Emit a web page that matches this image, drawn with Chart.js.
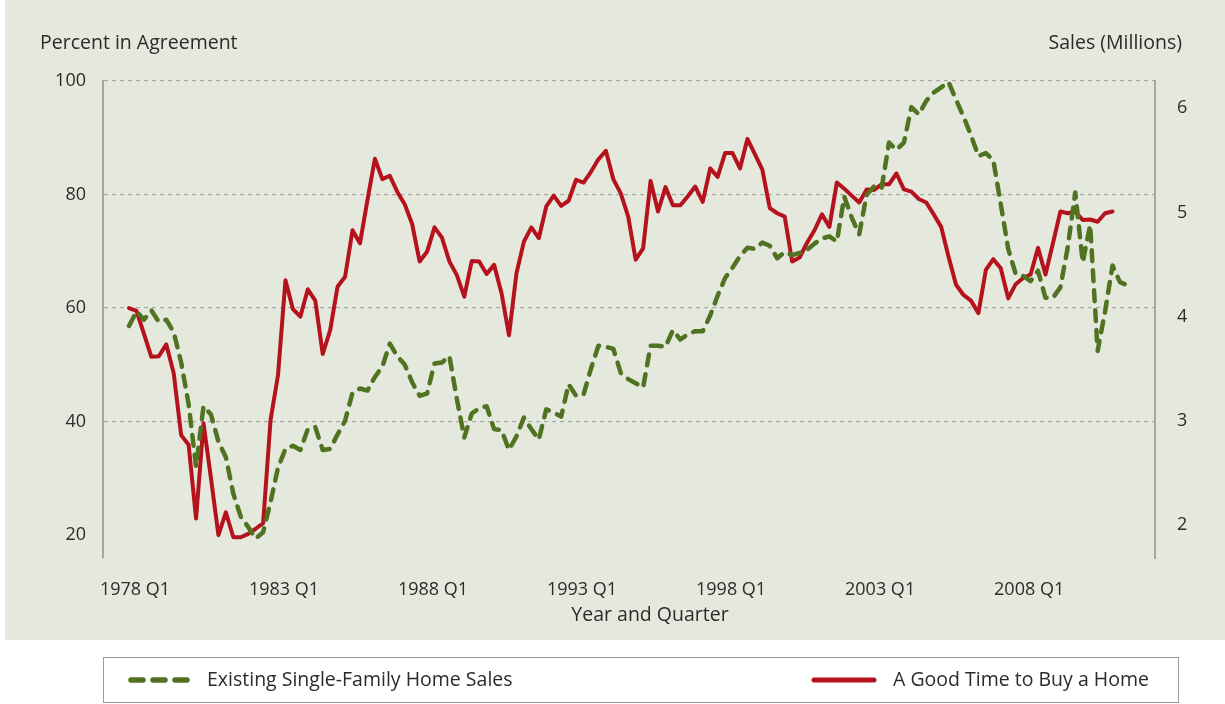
<!DOCTYPE html>
<html>
<head>
<meta charset="utf-8">
<script src="https://cdn.jsdelivr.net/npm/chart.js@4.4.1/dist/chart.umd.min.js"></script>
<style>
    html, body { margin: 0; padding: 0; background: #ffffff; }
    #wrap { width: 1225px; height: 704px; }
</style>
</head>
<body>
<div id="wrap"><canvas id="homeChart" width="1225" height="704"></canvas></div>
<script>
// 季度标签 1978 Q1 起
const startYear = 1978;
const quarters = [];
for (let y = startYear; y <= 2012; y++) {
    for (let q = 1; q <= 4; q++) quarters.push(y + ' Q' + q);
}

// 横轴刻度（季度序号）
const xTickIndex = [0, 20, 40, 60, 80, 100, 120];
const leftTicks = [20, 40, 60, 80, 100];
const rightTicks = [2, 3, 4, 5, 6];

// Existing Single-Family Home Sales (百万)
const homeSales = [
    3.91, 4.05, 3.97, 4.06, 3.95, 3.97, 3.85, 3.56, 3.16, 2.56,
    3.14, 3.06, 2.80, 2.65, 2.30, 2.08, 1.98, 1.87, 1.93, 2.22,
    2.55, 2.73, 2.76, 2.72, 2.92, 2.94, 2.72, 2.73, 2.87, 3.00,
    3.27, 3.31, 3.29, 3.42, 3.52, 3.74, 3.62, 3.54, 3.37, 3.24,
    3.26, 3.55, 3.56, 3.62, 3.21, 2.84, 3.07, 3.12, 3.14, 2.92,
    2.91, 2.72, 2.85, 3.03, 2.92, 2.82, 3.11, 3.08, 3.04, 3.35,
    3.24, 3.25, 3.50, 3.72, 3.71, 3.69, 3.46, 3.40, 3.36, 3.32,
    3.72, 3.72, 3.71, 3.87, 3.78, 3.83, 3.86, 3.86, 4.01, 4.20,
    4.37, 4.47, 4.58, 4.66, 4.65, 4.71, 4.68, 4.56, 4.62, 4.59,
    4.61, 4.64, 4.70, 4.75, 4.77, 4.72, 5.15, 4.95, 4.79, 5.17,
    5.25, 5.23, 5.67, 5.60, 5.67, 6.01, 5.94, 6.07, 6.15, 6.20,
    6.25, 6.08, 5.92, 5.74, 5.54, 5.57, 5.50, 5.08, 4.65, 4.41,
    4.39, 4.34, 4.44, 4.18, 4.18, 4.28, 4.67, 5.19, 4.52, 4.88,
    3.67, 4.05, 4.49, 4.33, 4.30
];

// A Good Time to Buy a Home (%)
const goodTime = [
    60.0, 59.5, 55.5, 51.4, 51.5, 53.6, 48.5, 37.6, 35.9, 22.9,
    39.7, 30.0, 20.0, 24.0, 19.6, 19.6, 20.2, 21.1, 22.1, 40.3,
    48.2, 64.9, 59.8, 58.5, 63.3, 61.3, 51.9, 56.1, 63.8, 65.5,
    73.7, 71.4, 79.0, 86.3, 82.7, 83.3, 80.5, 78.3, 74.8, 68.2,
    69.9, 74.2, 72.4, 68.2, 65.8, 62.0, 68.3, 68.2, 66.0, 67.6,
    62.6, 55.2, 66.1, 71.7, 74.2, 72.3, 77.9, 79.8, 78.0, 78.9,
    82.6, 82.1, 84.0, 86.2, 87.7, 82.7, 80.2, 76.1, 68.5, 70.5,
    82.4, 77.0, 81.3, 78.1, 78.1, 79.7, 81.4, 78.7, 84.6, 83.1,
    87.3, 87.3, 84.6, 89.8, 87.1, 84.4, 77.6, 76.7, 76.1, 68.2,
    68.9, 71.5, 73.7, 76.5, 74.3, 82.1, 81.0, 79.8, 78.6, 80.9,
    80.8, 81.8, 81.8, 83.7, 80.9, 80.5, 79.2, 78.6, 76.5, 74.3,
    69.0, 64.1, 62.3, 61.3, 59.1, 66.7, 68.6, 67.0, 61.7, 64.2,
    65.3, 65.9, 70.6, 65.9, 71.4, 77.0, 76.7, 77.0, 75.5, 75.6,
    75.2, 76.7, 77.0
];

const GREEN = '#4f7321';
const RED = '#b5121e';
const TEXT = '#2b2b2b';
const GRID = '#a8a8a8';
const PANEL = '#e5e9dd';
const FONT = "'Open Sans', sans-serif";
const LABEL_SIZE = 19.5;

Chart.defaults.font.family = FONT;
Chart.defaults.font.size = 18;
Chart.defaults.color = TEXT;

function toPoints(arr) {
    return arr.map((v, i) => ({ x: i, y: v }));
}

// 背景、轴标题、图例
const decorPlugin = {
    id: 'decor',
    beforeDraw(chart) {
        const ctx = chart.ctx;
        ctx.save();
        ctx.fillStyle = '#ffffff';
        ctx.fillRect(0, 0, chart.width, chart.height);
        ctx.fillStyle = PANEL;
        ctx.fillRect(5, 0, chart.width - 5, 640);
        ctx.restore();
    },
    afterDraw(chart) {
        const ctx = chart.ctx;
        ctx.save();
        ctx.font = LABEL_SIZE + 'px ' + FONT;
        ctx.fillStyle = TEXT;
        ctx.textBaseline = 'middle';

        ctx.textAlign = 'left';
        ctx.fillText('Percent in Agreement', 40, 43);
        ctx.textAlign = 'right';
        ctx.fillText('Sales (Millions)', 1182, 43);
        ctx.textAlign = 'center';
        ctx.fillText('Year and Quarter', 650, 615);

        // 图例框
        ctx.strokeStyle = '#9a9a9a';
        ctx.lineWidth = 1;
        ctx.strokeRect(103.5, 657.5, 1075, 45);

        const ds = chart.data.datasets;
        const items = [
            { d: ds[0], x: 131, len: 56, dash: [12, 10], w: 5.5, tx: 207 },
            { d: ds[1], x: 814, len: 60, dash: [], w: 5, tx: 893 }
        ];
        items.forEach(it => {
            ctx.beginPath();
            ctx.strokeStyle = it.d.borderColor;
            ctx.lineWidth = it.w;
            ctx.lineCap = 'round';
            ctx.setLineDash(it.dash);
            ctx.moveTo(it.x, 680);
            ctx.lineTo(it.x + it.len, 680);
            ctx.stroke();
            ctx.setLineDash([]);
            ctx.textAlign = 'left';
            ctx.fillStyle = TEXT;
            ctx.fillText(it.d.label, it.tx, 680);
        });
        ctx.restore();
    }
};

const ctx = document.getElementById('homeChart').getContext('2d');
window.homeChart = new Chart(ctx, {
    type: 'line',
    data: {
        datasets: [{
            label: 'Existing Single-Family Home Sales',
            data: toPoints(homeSales),
            yAxisID: 'y1',
            borderColor: GREEN,
            borderWidth: 4.5,
            borderDash: [11, 9],
            borderCapStyle: 'round',
            borderJoinStyle: 'round',
            pointRadius: 0,
            tension: 0,
            fill: false
        }, {
            label: 'A Good Time to Buy a Home',
            data: toPoints(goodTime),
            yAxisID: 'y',
            borderColor: RED,
            borderWidth: 4,
            borderCapStyle: 'round',
            borderJoinStyle: 'round',
            pointRadius: 0,
            tension: 0,
            fill: false
        }]
    },
    options: {
        responsive: false,
        animation: false,
        layout: { padding: { top: 81, left: 0, right: 0, bottom: 0 } },
        plugins: {
            legend: { display: false },
            tooltip: { enabled: false }
        },
        scales: {
            x: {
                type: 'linear',
                min: -3.49,
                max: 137.7,
                grid: { display: false },
                border: { display: false },
                afterBuildTicks: s => { s.ticks = xTickIndex.map(v => ({ value: v })); },
                afterFit: s => { s.height = 146; },
                ticks: {
                    padding: 13,
                    labelOffset: 6,
                    maxRotation: 0,
                    autoSkip: false,
                    callback: v => quarters[v]
                }
            },
            y: {
                position: 'left',
                min: 15.95,
                max: 100,
                afterBuildTicks: s => { s.ticks = leftTicks.map(v => ({ value: v })); },
                afterFit: s => { s.width = 103; },
                grid: {
                    drawTicks: false,
                    lineWidth: 1.2,
                    color: c => (c.tick && c.tick.value === 20) ? 'rgba(0,0,0,0)' : GRID
                },
                border: { display: true, color: '#a6a6a6', width: 2, dash: [4, 4] },
                ticks: { padding: 17 }
            },
            y1: {
                position: 'right',
                min: 1.683,
                max: 6.261,
                afterBuildTicks: s => { s.ticks = rightTicks.map(v => ({ value: v })); },
                afterFit: s => { s.width = 70; },
                grid: { display: false, drawTicks: false },
                border: { display: true, color: '#a6a6a6', width: 2 },
                ticks: { padding: 22 }
            }
        }
    },
    plugins: [decorPlugin]
});
</script>
</body>
</html>
